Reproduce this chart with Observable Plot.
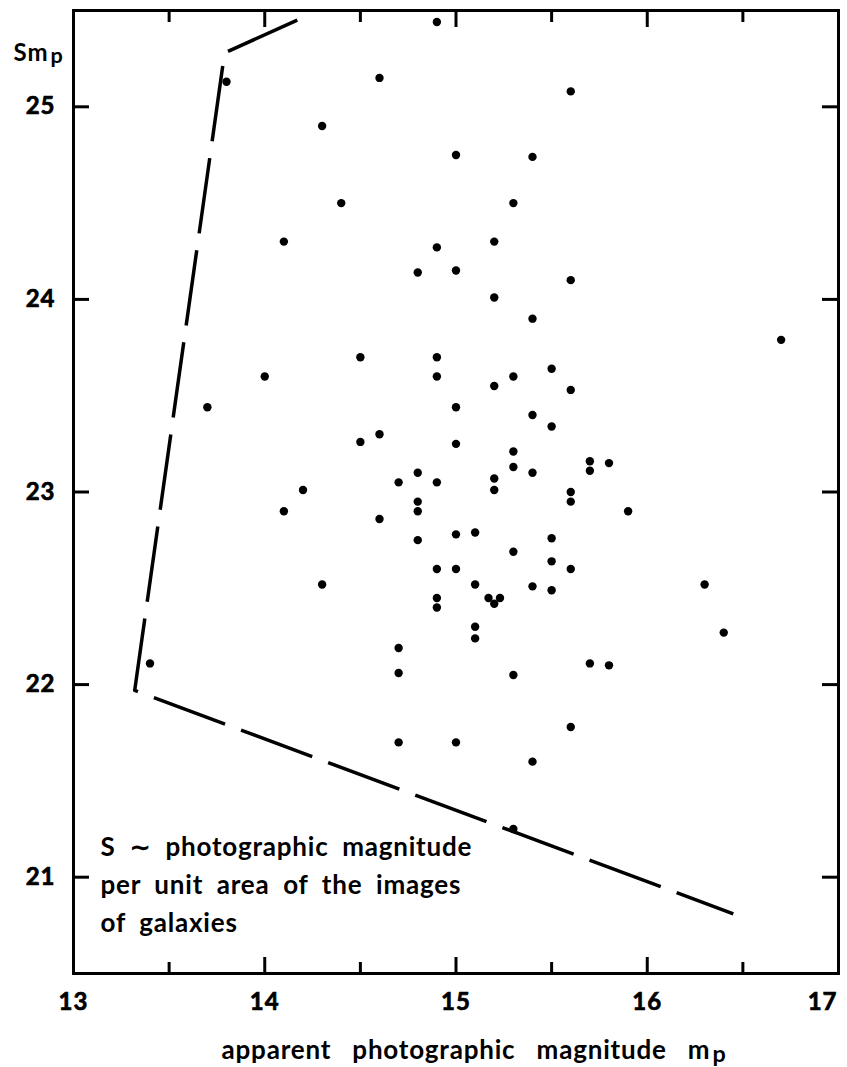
<!DOCTYPE html>
<html><head><meta charset="utf-8">
<script src="https://cdn.jsdelivr.net/npm/d3@7"></script>
<script src="https://cdn.jsdelivr.net/npm/@observablehq/plot@0.6"></script>
<style>
body{margin:0;background:#fff;}
#chart svg{display:block;}
#chart svg text{font-weight:700;}
</style></head><body><div id="chart"></div>
<script>
// apparent photographic magnitude m_p
const mp = [13.8,14.9,14.6,15.6,15.0,15.4,15.3,15.2,14.9,14.3,14.4,14.1,14.5,14.0,13.7,14.5,14.2,14.1,14.3,13.4,
  14.8,15.0,15.6,15.2,15.4,14.9,15.5,14.9,15.3,15.2,15.6,15.0,15.4,15.5,14.6,15.0,15.3,15.3,15.7,15.8,
  15.7,15.4,14.8,14.7,14.9,15.2,15.2,15.6,15.6,15.9,14.8,14.8,14.6,14.8,15.0,15.1,15.5,15.3,15.5,14.9,
  15.0,15.6,15.1,15.4,15.5,14.9,14.9,15.17,15.23,15.2,15.1,15.1,14.7,14.7,15.3,15.7,15.8,15.6,14.7,15.0,
  15.4,15.3,16.7,16.3,16.4];
// photographic magnitude per unit area Sm_p
const smp = [25.13,25.44,25.15,25.08,24.75,24.74,24.5,24.3,24.27,24.9,24.5,24.3,23.7,23.6,23.44,23.26,23.01,22.9,22.52,22.11,
  24.14,24.15,24.1,24.01,23.9,23.7,23.64,23.6,23.6,23.55,23.53,23.44,23.4,23.34,23.3,23.25,23.21,23.13,23.16,23.15,
  23.11,23.1,23.1,23.05,23.05,23.07,23.01,23.0,22.95,22.9,22.95,22.9,22.86,22.75,22.78,22.79,22.76,22.69,22.64,22.6,
  22.6,22.6,22.52,22.51,22.49,22.45,22.4,22.45,22.45,22.42,22.3,22.24,22.19,22.06,22.05,22.11,22.1,21.78,21.7,21.7,
  21.6,21.25,23.79,22.52,22.27];
// dashed boundary of the sample
const boundaryMp  = [14.17, 13.79, 13.32, 16.45];
const boundarySmp = [25.45, 25.28, 21.97, 20.81];
// ticks
const xTickLabels = [13, 14, 15, 16];
const xLastTickLabel = [17];
const xMajorTicks = [14, 15, 16];
const xMinorTicks = [13.5, 14.5, 15.5, 16.5];
const yTicks = [21, 22, 23, 24, 25];
const yLabel = "Sm_p";
const xLabel = "apparent photographic magnitude m_p";
const note = "S \u223C photographic magnitude\nper unit area of the images\nof galaxies";

const points = mp.map((m, i) => ({mp: m, smp: smp[i]}));
const boundary = boundaryMp.map((m, i) => ({mp: m, smp: boundarySmp[i]}));

const W = 847, H = 1067, ML = 73, MR = 9, MT = 10, MB = 94;
const innerW = W - ML - MR, innerH = H - MT - MB;
const font = "Lato, 'DejaVu Sans', sans-serif";
const fmt = d => String(d);

const plot = Plot.plot({
  width: W, height: H,
  marginLeft: ML, marginRight: MR, marginTop: MT, marginBottom: MB,
  style: {fontFamily: font, fontSize: "24px", fontWeight: 700, color: "#000", background: "#fff"},
  x: {domain: [13, 17]},
  y: {domain: [20.5, 25.5]},
  marks: [
    Plot.axisX(xTickLabels, {anchor: "bottom", tickSize: 0, tickPadding: 19, label: null, fontSize: 24, fontWeight: 700, tickFormat: fmt}),
    Plot.axisX(xLastTickLabel, {anchor: "bottom", tickSize: 0, tickPadding: 19, label: null, fontSize: 24, fontWeight: 700, tickFormat: fmt, textAnchor: "end", dx: -1}),
    Plot.axisY(yTicks, {anchor: "left", tickSize: 0, tickPadding: 18, label: null, fontSize: 24, fontWeight: 700, tickFormat: fmt}),
    // inward ticks
    Plot.tickY(yTicks, {y: d => d, insetRight: innerW - 16, strokeWidth: 3, stroke: "#000"}),
    Plot.tickY(yTicks, {y: d => d, insetLeft: innerW - 16, strokeWidth: 3, stroke: "#000"}),
    Plot.tickX(xMajorTicks, {x: d => d, insetTop: innerH - 16, strokeWidth: 3, stroke: "#000"}),
    Plot.tickX(xMinorTicks, {x: d => d, insetTop: innerH - 11, strokeWidth: 3, stroke: "#000"}),
    Plot.tickX(xMajorTicks, {x: d => d, insetBottom: innerH - 17, strokeWidth: 3, stroke: "#000"}),
    Plot.tickX(xMinorTicks, {x: d => d, insetBottom: innerH - 12, strokeWidth: 3, stroke: "#000"}),
    Plot.frame({stroke: "#000", strokeWidth: 3}),
    Plot.line(boundary, {x: "mp", y: "smp", stroke: "#000", strokeWidth: 3.5, strokeDasharray: "76,17", strokeLinecap: "butt"}),
    Plot.dot(points, {x: "mp", y: "smp", r: 4.2, fill: "#000", stroke: "none"}),
    Plot.text([note], {frameAnchor: "top-left", textAnchor: "start", lineAnchor: "top", dx: 27, dy: 818,
      lineHeight: 1.47, fontSize: 26, fill: "#000"}),
    Plot.text([yLabel], {frameAnchor: "top-left", textAnchor: "start", lineAnchor: "top", dx: -60, dy: 33,
      fontSize: 24, fill: "#000"}),
    Plot.text([xLabel], {frameAnchor: "bottom", textAnchor: "middle", lineAnchor: "top", dx: 18, dy: 67,
      fontSize: 26, fill: "#000"})
  ]
});

// spacing and weight like the original hand lettering
plot.querySelectorAll("text").forEach(t => {
  const s = t.textContent;
  if (s.includes("galaxies")) { t.setAttribute("letter-spacing", "0.8"); t.setAttribute("word-spacing", "6.5"); }
  else if (s.startsWith("apparent")) { t.setAttribute("letter-spacing", "0.8"); t.setAttribute("word-spacing", "14"); }
  else if (s.startsWith("Sm")) { t.setAttribute("letter-spacing", "1"); }
  else if (/^\d+$/.test(s.trim())) {
    t.style.stroke = "#000"; t.style.strokeWidth = "0.7px"; t.style.paintOrder = "fill";
    t.setAttribute("letter-spacing", "1");
  }
});

// render "_p" as a lowered subscript p
const NS = "http://www.w3.org/2000/svg";
plot.querySelectorAll("text, tspan").forEach(el => {
  if (el.childElementCount === 0 && el.textContent.includes("_p")) {
    const parts = el.textContent.split("_p");
    el.textContent = parts[0];
    const sub = document.createElementNS(NS, "tspan");
    sub.setAttribute("dy", "0.12em");
    sub.setAttribute("dx", "2");
    sub.setAttribute("font-size", "0.9em");
    sub.textContent = "p";
    el.appendChild(sub);
  }
});

document.getElementById("chart").appendChild(plot);
</script></body></html>
